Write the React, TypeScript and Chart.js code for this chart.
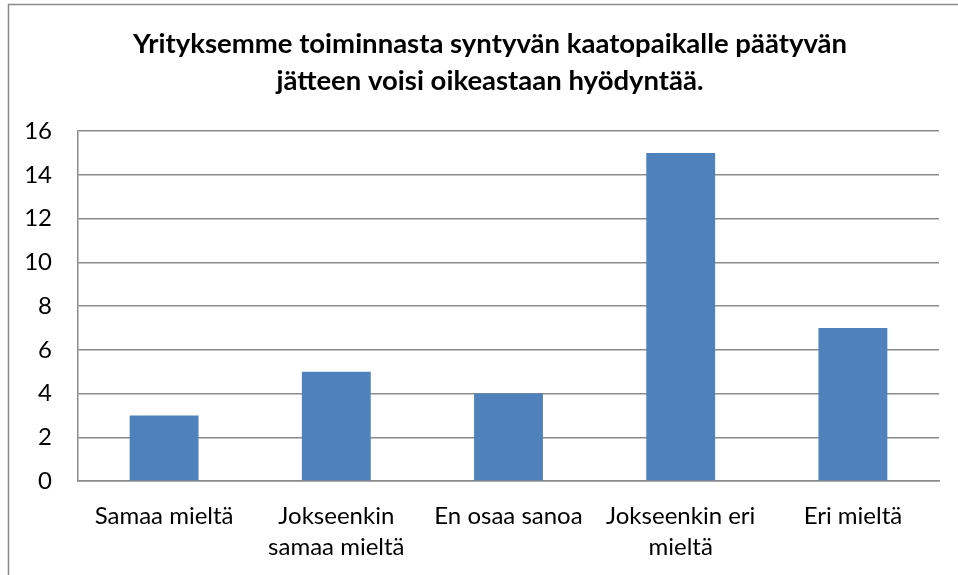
import React, { useEffect, useRef } from "react";
import { Chart, registerables } from "chart.js";

Chart.register(...registerables);

const titleLines = [
  "Yrityksemme toiminnasta syntyvän kaatopaikalle päätyvän",
  "jätteen voisi oikeastaan hyödyntää.",
];
const categories: (string | string[])[] = [
  "Samaa mieltä",
  ["Jokseenkin", "samaa mieltä"],
  "En osaa sanoa",
  ["Jokseenkin eri", "mieltä"],
  "Eri mieltä",
];
const values = [3, 5, 4, 15, 7];
const yMin = 0;
const yMax = 16;
const yStep = 2;

const FONT = "Lato, 'Open Sans', sans-serif";

const framePlugin = {
  id: "frame",
  beforeDraw(chart: any) {
    const ctx = chart.ctx;
    ctx.save();
    ctx.fillStyle = "#ffffff";
    ctx.fillRect(0, 0, chart.width, chart.height);
    ctx.strokeStyle = "#8a8a8a";
    ctx.lineWidth = 1.5;
    ctx.beginPath();
    ctx.moveTo(8.5, chart.height);
    ctx.lineTo(8.5, 4.5);
    ctx.lineTo(chart.width, 4.5);
    ctx.stroke();
    ctx.restore();
  },
  afterLayout(chart: any) {
    // centre the title over the reference's frame rather than the padded area
    if (chart.titleBlock) {
      chart.titleBlock.left = 41;
    }
  },
};

export default function App() {
  const ref = useRef<HTMLCanvasElement>(null);
  useEffect(() => {
    if (!ref.current) return;
    const chart = new Chart(ref.current, {
      type: "bar",
      data: {
        labels: categories,
        datasets: [
          {
            data: values,
            backgroundColor: "#4F81BD",
            borderWidth: 0,
            categoryPercentage: 1,
            barPercentage: 0.4,
          },
        ],
      },
      options: {
        animation: false,
        responsive: false,
        devicePixelRatio: 1,
        layout: { padding: { left: 18, right: 19, top: 26, bottom: 12 } },
        plugins: {
          legend: { display: false },
          tooltip: { enabled: false },
          title: {
            display: true,
            text: titleLines,
            color: "#000000",
            font: { family: FONT, size: 27.5, weight: "bold", lineHeight: 1.33 },
            padding: { top: 0, bottom: 32 },
          },
        },
        scales: {
          x: {
            grid: { display: false },
            border: { display: true, color: "#8a8a8a", width: 1.5 },
            ticks: {
              color: "#000000",
              font: { family: FONT, size: 24, lineHeight: 1.29 },
              maxRotation: 0,
              autoSkip: false,
              padding: 12,
            },
            afterFit(scale: any) {
              scale.height = 82;
            },
          },
          y: {
            min: yMin,
            max: yMax,
            grid: { color: "#8a8a8a", lineWidth: 1.5, drawTicks: false },
            border: { display: true, color: "#8a8a8a", width: 1.5 },
            ticks: {
              stepSize: yStep,
              color: "#000000",
              font: { family: FONT, size: 24 },
              padding: 26,
            },
            afterFit(scale: any) {
              scale.width = 60;
            },
          },
        },
      },
      plugins: [framePlugin],
    });
    return () => chart.destroy();
  }, []);
  return (
    <canvas
      ref={ref}
      width={958}
      height={575}
      style={{ position: "absolute", left: 0, top: 0, width: 958, height: 575 }}
    />
  );
}
